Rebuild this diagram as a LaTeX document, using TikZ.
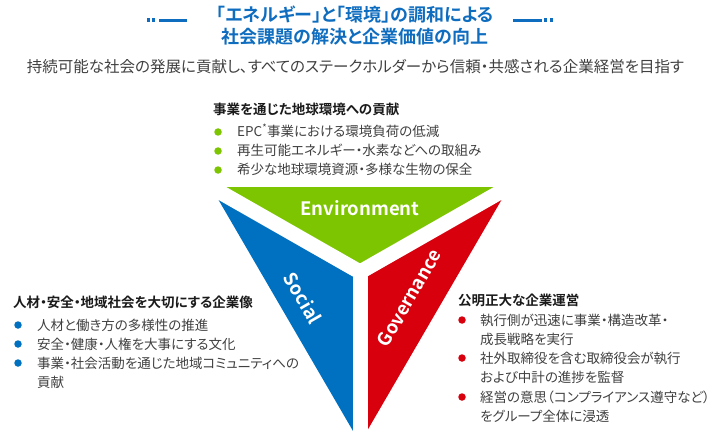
\documentclass[tikz,border=0pt]{standalone}
\usepackage{fontspec}
\setmainfont{Noto Sans CJK JP}[BoldFont={Noto Sans CJK JP Bold}, RawFeature=+palt]
\usetikzlibrary{calc}

\definecolor{envgreen}{HTML}{7DC500}
\definecolor{socblue}{HTML}{0070C0}
\definecolor{govred}{HTML}{D9000D}
\definecolor{titleblue}{HTML}{0F6DBF}
\definecolor{bodygray}{HTML}{404040}
\definecolor{headblack}{HTML}{1A1A1A}

\begin{document}
\begin{tikzpicture}[
    x=1pt,
    y=-1pt,
    title/.style={font=\fontsize{18}{22}\selectfont\bfseries, text=titleblue, inner sep=0pt},
    lead/.style={font=\fontsize{15.5}{20}\selectfont, text=bodygray, inner sep=0pt},
    head/.style={font=\fontsize{13.5}{20}\selectfont\bfseries, text=headblack, anchor=west, inner sep=0pt},
    item/.style={font=\fontsize{13.5}{19.5}\selectfont, text=bodygray, anchor=base west, align=left, inner sep=0pt},
    bul/.style={circle, fill=#1, inner sep=0pt, minimum size=7.5pt},
    pillar/.style={font=\fontsize{18.5}{20}\selectfont\bfseries, text=white, inner sep=0pt},
    slit/.style={draw=white, line width=15pt},
    deco/.style={fill=titleblue}
  ]
    \useasboundingbox (0,0) rectangle (720,441);

    % -- Titel und Leitsatz --
    \node[title] (t1) at (355,15) {「エネルギー」と「環境」の調和による};
    \node[title] (t2) at (355,37) {社会課題の解決と企業価値の向上};
    \fill[deco] (146.5,18.5) rectangle (149.8,22);
    \fill[deco] (151.5,18.5) rectangle (154.8,22);
    \fill[deco] (159,18.8) rectangle (187,22);
    \fill[deco] (513,18.8) rectangle (542,22);
    \fill[deco] (544,18.5) rectangle (547.3,22);
    \fill[deco] (549.5,18.5) rectangle (552.8,22);
    \node[lead] (lead) at (355.5,67) {持続可能な社会の発展に貢献し、すべてのステークホルダーから信頼・共感される企業経営を目指す};

    % -- Dreieck --
    \coordinate (A) at (211,187);
    \coordinate (B) at (509,187);
    \coordinate (C) at (360,443);
    \coordinate (O) at (360,272);
    \fill[envgreen] (A) -- (B) -- (O) -- cycle;
    \fill[socblue] (A) -- (O) -- (C) -- cycle;
    \fill[govred] (B) -- (O) -- (C) -- cycle;
    \draw[slit] (O) -- ($(O)!1.1!(A)$);
    \draw[slit] (O) -- ($(O)!1.1!(B)$);
    \draw[slit] (O) -- ($(O)!1.1!(C)$);

    \node[pillar] (env) at (360,208) {Environment};
    \node[pillar, rotate=-60] (soc) at (303,298) {Social};
    \node[pillar, rotate=60] (gov) at (409,298) {Governance};

    % -- Environment --
    \node[head] (envhead) at (213,109) {事業を通じた地球環境への貢献};
    \node[bul=envgreen] (e1) at (218,132) {};
    \node[item] (e1t) at (237,137) {EPC\textsuperscript{*}事業における環境負荷の低減};
    \node[bul=envgreen] (e2) at (218,151) {};
    \node[item] (e2t) at (237,156) {再生可能エネルギー・水素などへの取組み};
    \node[bul=envgreen] (e3) at (218,170) {};
    \node[item] (e3t) at (237,175) {希少な地球環境資源・多様な生物の保全};

    % -- Social --
    \node[head] (sochead) at (13,302) {人材・安全・地域社会を大切にする企業像};
    \node[bul=socblue] (s1) at (18,325) {};
    \node[item] (s1t) at (37,330) {人材と働き方の多様性の推進};
    \node[bul=socblue] (s2) at (18,344) {};
    \node[item] (s2t) at (37,349) {安全・健康・人権を大事にする文化};
    \node[bul=socblue] (s3) at (18,363) {};
    \node[item] (s3t) at (37,387.5) {事業・社会活動を通じた地域コミュニティへの\\貢献};

    % -- Governance --
    \node[head] (govhead) at (458,300) {公明正大な企業運営};
    \node[bul=govred] (g1) at (462,320) {};
    \node[item] (g1t) at (480,344.5) {執行側が迅速に事業・構造改革・\\成長戦略を実行};
    \node[bul=govred] (g2) at (462,358) {};
    \node[item] (g2t) at (480,382.5) {社外取締役を含む取締役会が執行\\および中計の進捗を監督};
    \node[bul=govred] (g3) at (462,397) {};
    \node[item] (g3t) at (480,421.5) {経営の意思（コンプライアンス遵守など）\\をグループ全体に浸透};
\end{tikzpicture}
\end{document}
